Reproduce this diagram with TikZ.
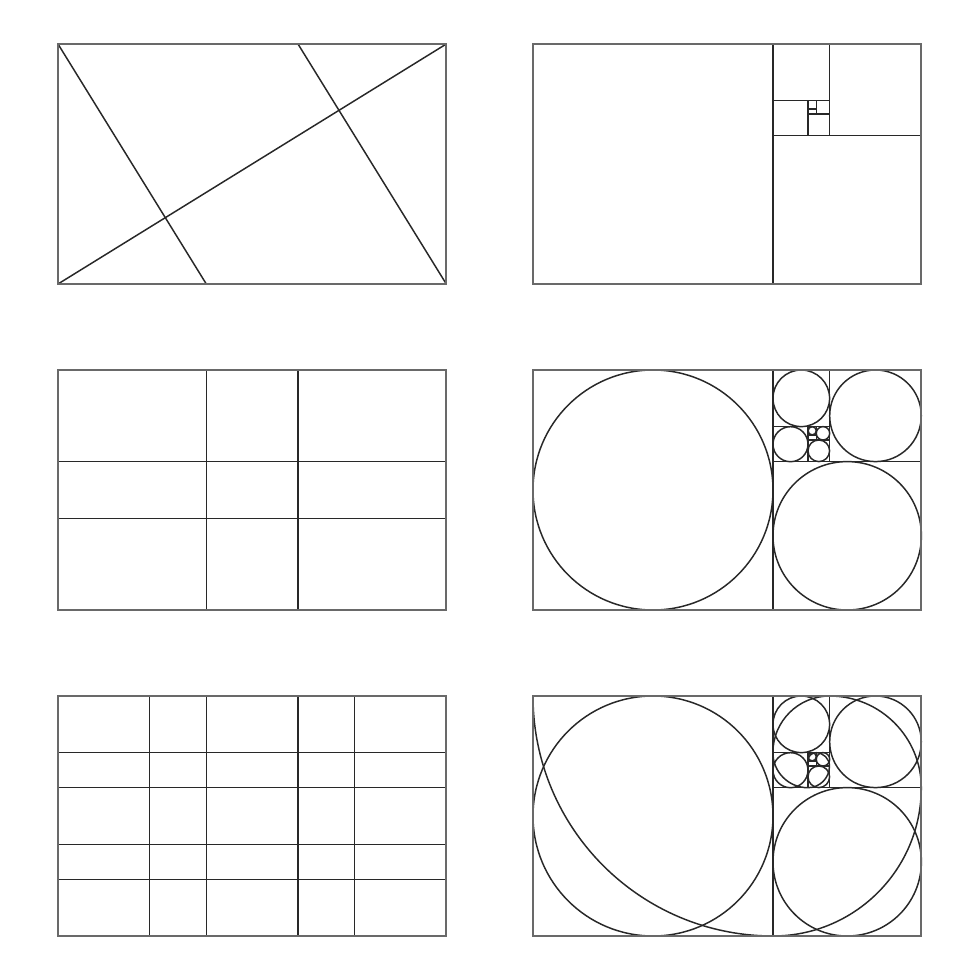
\documentclass[tikz,border=0pt]{standalone}
\usepackage{tikz}
\usepackage{color}
\definecolor{graphite}{RGB}{40, 40, 40}
\definecolor{ashgray}{RGB}{105, 105, 105}

\begin{document}
\begin{tikzpicture}[panel/.style={ashgray, line width=0.65pt},
                    guide/.style={graphite, line width=0.42pt}]
            % Page
            \useasboundingbox                                                 ( 0.00, 0.00) rectangle (9.80, 9.80);
            % Diagonal with perpendiculars
            \begin{scope}[shift={(0.58, 6.96)}]
                \draw[guide]                                                  ( 0.00, 0.00) -- ( 3.883, 2.40);
                \draw[guide]                                                  ( 0.00, 2.40) -- ( 1.483, 0.00);
                \draw[guide]                                                  ( 2.40, 2.40) -- ( 3.883, 0.00);
                \draw[panel]                                                  ( 0.00, 0.00) rectangle (3.883, 2.40);
            \end{scope}
            % Golden squares
            \begin{scope}[shift={(5.33, 6.96)}]
                \draw[guide]                                                  ( 2.400, 0.000) -- ( 2.400, 2.400);
                \draw[guide]                                                  ( 2.400, 1.483) -- ( 3.883, 1.483);
                \draw[guide]                                                  ( 2.967, 1.483) -- ( 2.967, 2.400);
                \draw[guide]                                                  ( 2.400, 1.833) -- ( 2.967, 1.833);
                \draw[guide]                                                  ( 2.750, 1.483) -- ( 2.750, 1.833);
                \draw[guide]                                                  ( 2.750, 1.700) -- ( 2.967, 1.700);
                \draw[guide]                                                  ( 2.833, 1.700) -- ( 2.833, 1.833);
                \draw[guide]                                                  ( 2.750, 1.751) -- ( 2.833, 1.751);
                \draw[panel]                                                  ( 0.00, 0.00) rectangle (3.883, 2.40);
            \end{scope}
            % Phi grid
            \begin{scope}[shift={(0.58, 3.70)}]
                \draw[guide]                                                  ( 1.483, 0.00) -- ( 1.483, 2.40);
                \draw[guide]                                                  ( 2.400, 0.00) -- ( 2.400, 2.40);
                \draw[guide]                                                  ( 0.00, 0.917) -- ( 3.883, 0.917);
                \draw[guide]                                                  ( 0.00, 1.483) -- ( 3.883, 1.483);
                \draw[panel]                                                  ( 0.00, 0.00) rectangle (3.883, 2.40);
            \end{scope}
            % Golden squares with circles
            \begin{scope}[shift={(5.33, 3.70)}]
                \draw[guide]                                                  ( 2.400, 0.000) -- ( 2.400, 2.400);
                \draw[guide]                                                  ( 2.400, 1.483) -- ( 3.883, 1.483);
                \draw[guide]                                                  ( 2.967, 1.483) -- ( 2.967, 2.400);
                \draw[guide]                                                  ( 2.400, 1.833) -- ( 2.967, 1.833);
                \draw[guide]                                                  ( 2.750, 1.483) -- ( 2.750, 1.833);
                \draw[guide]                                                  ( 2.750, 1.700) -- ( 2.967, 1.700);
                \draw[guide]                                                  ( 2.833, 1.700) -- ( 2.833, 1.833);
                \draw[guide]                                                  ( 2.750, 1.751) -- ( 2.833, 1.751);
                \draw[guide]                                                  ( 1.200, 1.200) circle (1.200);
                \draw[guide]                                                  ( 3.142, 0.742) circle (0.742);
                \draw[guide]                                                  ( 3.425, 1.942) circle (0.458);
                \draw[guide]                                                  ( 2.683, 2.117) circle (0.283);
                \draw[guide]                                                  ( 2.575, 1.658) circle (0.175);
                \draw[guide]                                                  ( 2.858, 1.592) circle (0.108);
                \draw[guide]                                                  ( 2.900, 1.767) circle (0.067);
                \draw[guide]                                                  ( 2.792, 1.792) circle (0.041);
                \draw[panel]                                                  ( 0.00, 0.00) rectangle (3.883, 2.40);
            \end{scope}
            % Fine phi grid
            \begin{scope}[shift={(0.58, 0.44)}]
                \draw[guide]                                                  ( 0.917, 0.00) -- ( 0.917, 2.40);
                \draw[guide]                                                  ( 1.483, 0.00) -- ( 1.483, 2.40);
                \draw[guide]                                                  ( 2.400, 0.00) -- ( 2.400, 2.40);
                \draw[guide]                                                  ( 2.967, 0.00) -- ( 2.967, 2.40);
                \draw[guide]                                                  ( 0.00, 0.567) -- ( 3.883, 0.567);
                \draw[guide]                                                  ( 0.00, 0.917) -- ( 3.883, 0.917);
                \draw[guide]                                                  ( 0.00, 1.483) -- ( 3.883, 1.483);
                \draw[guide]                                                  ( 0.00, 1.833) -- ( 3.883, 1.833);
                \draw[panel]                                                  ( 0.00, 0.00) rectangle (3.883, 2.40);
            \end{scope}
            % Golden squares with circles and spiral
            \begin{scope}[shift={(5.33, 0.44)}]
                \draw[guide]                                                  ( 2.400, 0.000) -- ( 2.400, 2.400);
                \draw[guide]                                                  ( 2.400, 1.483) -- ( 3.883, 1.483);
                \draw[guide]                                                  ( 2.967, 1.483) -- ( 2.967, 2.400);
                \draw[guide]                                                  ( 2.400, 1.833) -- ( 2.967, 1.833);
                \draw[guide]                                                  ( 2.750, 1.483) -- ( 2.750, 1.833);
                \draw[guide]                                                  ( 2.750, 1.700) -- ( 2.967, 1.700);
                \draw[guide]                                                  ( 2.833, 1.700) -- ( 2.833, 1.833);
                \draw[guide]                                                  ( 2.750, 1.751) -- ( 2.833, 1.751);
                \draw[guide]                                                  ( 1.200, 1.200) circle (1.200);
                \draw[guide]                                                  ( 3.142, 0.742) circle (0.742);
                \draw[guide]                                                  ( 3.425, 1.942) circle (0.458);
                \draw[guide]                                                  ( 2.683, 2.117) circle (0.283);
                \draw[guide]                                                  ( 2.575, 1.658) circle (0.175);
                \draw[guide]                                                  ( 2.858, 1.592) circle (0.108);
                \draw[guide]                                                  ( 2.900, 1.767) circle (0.067);
                \draw[guide]                                                  ( 2.792, 1.792) circle (0.041);
                % Spiral
                \draw[guide]                                                  ( 0.000, 2.400)
                     arc[start angle=180, end angle=270, radius=2.400]
                     arc[start angle=270, end angle=360, radius=1.483]
                     arc[start angle=  0, end angle= 90, radius=0.917]
                     arc[start angle= 90, end angle=180, radius=0.567]
                     arc[start angle=180, end angle=270, radius=0.350]
                     arc[start angle=270, end angle=360, radius=0.216]
                     arc[start angle=  0, end angle= 90, radius=0.134]
                     arc[start angle= 90, end angle=180, radius=0.083];
                \draw[panel]                                                  ( 0.00, 0.00) rectangle (3.883, 2.40);
            \end{scope}
\end{tikzpicture}
\end{document}
